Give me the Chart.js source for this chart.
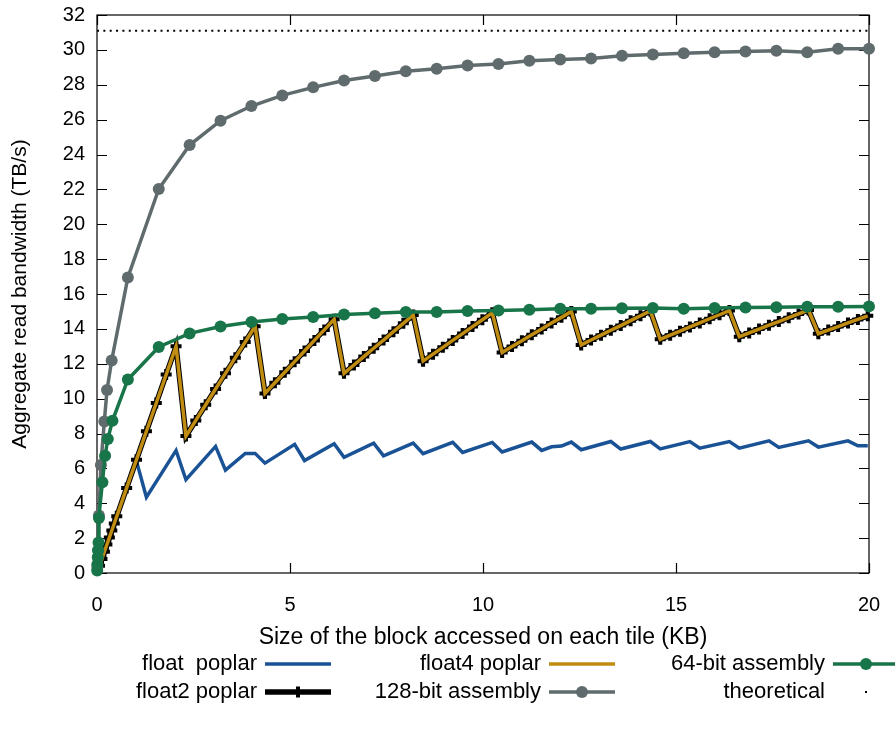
<!DOCTYPE html>
<html>
<head>
<meta charset="utf-8">
<script src="https://cdn.jsdelivr.net/npm/chart.js@4.4.1/dist/chart.umd.min.js"></script>
<style>
  html, body { margin: 0; padding: 0; background: #ffffff; }
  #c { display: block; }
</style>
</head>
<body>
<canvas id="c" width="895" height="734"></canvas>
<script>
// ---- Data: block size per tile (KB) and aggregate read bandwidth (TB/s) ----

// Poplar codelets: sizes step by 64 B below 512 B, then by 256 B
const poplarSizeKB = [
  0.064, 0.128, 0.192, 0.256, 0.32, 0.384, 0.448, 0.512,
  0.768, 1.024, 1.28, 1.536, 1.792, 2.048,
  2.304, 2.56, 2.816, 3.072, 3.328, 3.584, 3.84, 4.096,
  4.352, 4.608, 4.864, 5.12, 5.376, 5.632, 5.888, 6.144,
  6.4, 6.656, 6.912, 7.168, 7.424, 7.68, 7.936, 8.192,
  8.448, 8.704, 8.96, 9.216, 9.472, 9.728, 9.984, 10.24,
  10.496, 10.752, 11.008, 11.264, 11.52, 11.776, 12.032, 12.288,
  12.544, 12.8, 13.056, 13.312, 13.568, 13.824, 14.08, 14.336,
  14.592, 14.848, 15.104, 15.36, 15.616, 15.872, 16.128, 16.384,
  16.64, 16.896, 17.152, 17.408, 17.664, 17.92, 18.176, 18.432,
  18.688, 18.944, 19.2, 19.456, 19.712, 19.968
];

const float2Poplar = [
  0.41, 0.81, 1.22, 1.63, 2.03, 2.44, 2.84, 3.25,
  4.88, 6.50, 8.13, 9.75, 11.38, 13.00,
  7.85, 8.75, 9.65, 10.55, 11.45, 12.35, 13.25, 14.15,
  10.30, 10.91, 11.51, 12.12, 12.73, 13.34, 13.94, 14.55,
  11.45, 11.93, 12.41, 12.89, 13.36, 13.84, 14.32, 14.80,
  12.15, 12.55, 12.94, 13.34, 13.73, 14.13, 14.52, 14.92,
  12.65, 12.99, 13.32, 13.66, 13.99, 14.33, 14.66, 15.00,
  13.08, 13.36, 13.64, 13.92, 14.19, 14.47, 14.75, 15.03,
  13.40, 13.64, 13.87, 14.11, 14.34, 14.58, 14.81, 15.05,
  13.55, 13.77, 13.99, 14.21, 14.42, 14.64, 14.86, 15.08,
  13.72, 13.93, 14.13, 14.34, 14.54, 14.75
];

const float4Poplar = [
  0.41, 0.81, 1.22, 1.63, 2.03, 2.44, 2.84, 3.25,
  4.88, 6.50, 8.13, 9.75, 11.38, 13.00,
  7.85, 8.75, 9.65, 10.55, 11.45, 12.35, 13.25, 14.15,
  10.30, 10.91, 11.51, 12.12, 12.73, 13.34, 13.94, 14.55,
  11.45, 11.93, 12.41, 12.89, 13.36, 13.84, 14.32, 14.80,
  12.15, 12.55, 12.94, 13.34, 13.73, 14.13, 14.52, 14.92,
  12.65, 12.99, 13.32, 13.66, 13.99, 14.33, 14.66, 15.00,
  13.08, 13.36, 13.64, 13.92, 14.19, 14.47, 14.75, 15.03,
  13.40, 13.64, 13.87, 14.11, 14.34, 14.58, 14.81, 15.05,
  13.55, 13.77, 13.99, 14.21, 14.42, 14.64, 14.86, 15.08,
  13.72, 13.93, 14.13, 14.34, 14.54, 14.75
];

// Scalar float codelet (only the sizes where the curve turns)
const floatSizeKB = [
  0.064, 0.256, 0.512, 0.768, 1.024, 1.28, 2.048, 2.304, 3.072, 3.328,
  3.84, 4.096, 4.352, 5.12, 5.376, 6.144, 6.4, 7.168, 7.424, 8.192,
  8.448, 9.216, 9.472, 10.24, 10.496, 11.264, 11.52, 11.776, 12.032, 12.288,
  12.544, 13.312, 13.568, 14.336, 14.592, 15.36, 15.616, 16.384, 16.64, 17.408,
  17.664, 18.432, 18.688, 19.456, 19.712, 19.968
];
const floatPoplar = [
  0.41, 1.63, 3.25, 4.88, 6.40, 4.35, 7.03, 5.35, 7.26, 5.90,
  6.86, 6.86, 6.30, 7.38, 6.45, 7.41, 6.63, 7.45, 6.72, 7.45,
  6.84, 7.49, 6.91, 7.49, 6.94, 7.51, 7.03, 7.24, 7.28, 7.51,
  7.07, 7.54, 7.11, 7.54, 7.12, 7.54, 7.16, 7.54, 7.16, 7.58,
  7.20, 7.58, 7.22, 7.58, 7.30, 7.30
];

// Hand-written assembly kernels
const asm128SizeKB = [
  0.01, 0.03, 0.05, 0.10, 0.19, 0.26, 0.38,
  0.8, 1.6, 2.4, 3.2, 4.0, 4.8, 5.6, 6.4, 7.2, 8.0, 8.8, 9.6, 10.4,
  11.2, 12.0, 12.8, 13.6, 14.4, 15.2, 16.0, 16.8, 17.6, 18.4, 19.2, 20.0
];
const asm128 = [
  0.35, 1.30, 3.30, 6.20, 8.69, 10.50, 12.19,
  16.95, 22.02, 24.54, 25.94, 26.78, 27.39, 27.85, 28.24, 28.50, 28.77, 28.92, 29.11, 29.19,
  29.38, 29.45, 29.50, 29.66, 29.74, 29.80, 29.87, 29.91, 29.95, 29.87, 30.06, 30.06
];

const asm64SizeKB = [
  0.005, 0.01, 0.02, 0.03, 0.04, 0.05, 0.14, 0.21, 0.28, 0.40,
  0.8, 1.6, 2.4, 3.2, 4.0, 4.8, 5.6, 6.4, 7.2, 8.0, 8.8, 9.6, 10.4,
  11.2, 12.0, 12.8, 13.6, 14.4, 15.2, 16.0, 16.8, 17.6, 18.4, 19.2, 20.0
];
const asm64 = [
  0.15, 0.50, 0.90, 1.30, 1.75, 3.15, 5.20, 6.72, 7.68, 8.73,
  11.10, 12.96, 13.74, 14.14, 14.39, 14.57, 14.68, 14.83, 14.89, 14.97, 14.97, 15.03, 15.06,
  15.10, 15.16, 15.16, 15.18, 15.20, 15.16, 15.20, 15.22, 15.24, 15.27, 15.27, 15.29
];

// Theoretical peak read bandwidth
const theoreticalSizeKB = [0, 20];
const theoretical = [31.1, 31.1];

// Axis ticks
const xTicks = [0, 5, 10, 15, 20];
const yTicks = [0, 2, 4, 6, 8, 10, 12, 14, 16, 18, 20, 22, 24, 26, 28, 30, 32];

// Legend layout: [label, dataset index] in reading order, two rows of three
const legendRows = [
  [['float  poplar', 0], ['float4 poplar', 2], ['64-bit assembly', 4]],
  [['float2 poplar', 1], ['128-bit assembly', 3], ['theoretical', 5]]
];

// ---- Helpers ----
const pts = (xs, ys) => xs.map((x, i) => ({ x: x, y: ys[i] }));
const FONT = '"Liberation Sans", Arial, Helvetica, sans-serif';
const TICK_FS = 20;
const XTITLE_FS = 23;
const YTITLE_FS = 21;
const KEY_FS = 22;

const COL_BLUE = '#1a5296';
const COL_GOLD = '#c08d12';
const COL_GRAY = '#606b6e';
const COL_GREEN = '#187549';

// Box border with inward ticks on all four sides
const frame = {
  id: 'frame',
  beforeDatasetsDraw(chart) {
    const { ctx, chartArea: a, scales } = chart;
    ctx.save();
    ctx.strokeStyle = '#000';
    ctx.lineWidth = 1.2;
    ctx.strokeRect(a.left, a.top, a.right - a.left, a.bottom - a.top);
    const len = 10;
    ctx.beginPath();
    xTicks.forEach(v => {
      const px = Math.round(scales.x.getPixelForValue(v)) + 0.5;
      ctx.moveTo(px, a.bottom); ctx.lineTo(px, a.bottom - len);
      ctx.moveTo(px, a.top); ctx.lineTo(px, a.top + len);
    });
    yTicks.forEach(v => {
      const py = Math.round(scales.y.getPixelForValue(v)) + 0.5;
      ctx.moveTo(a.left, py); ctx.lineTo(a.left + len, py);
      ctx.moveTo(a.right, py); ctx.lineTo(a.right - len, py);
    });
    ctx.stroke();
    ctx.restore();
  }
};

// Key below the plot: right-aligned label followed by a line sample
const keyBox = {
  id: 'keyBox',
  afterDraw(chart) {
    const ctx = chart.ctx;
    const textRight = [257, 541, 825];
    const rowY = [664, 692];
    const sampleLen = 66;
    ctx.save();
    ctx.font = KEY_FS + 'px ' + FONT;
    ctx.textBaseline = 'middle';
    ctx.textAlign = 'right';
    legendRows.forEach((row, r) => {
      row.forEach(([label, di], c) => {
        const ds = chart.data.datasets[di];
        const y = rowY[r];
        const x0 = textRight[c] + 8;
        const x1 = x0 + sampleLen;
        ctx.fillStyle = '#000';
        ctx.fillText(label, textRight[c], y);
        if (ds.borderDash && ds.borderDash.length) {
          ctx.fillStyle = ds.borderColor;
          ctx.fillRect((x0 + x1) / 2 - 1, y - 1, 2, 2);
          return;
        }
        ctx.strokeStyle = ds.borderColor;
        ctx.lineWidth = ds.borderWidth;
        ctx.beginPath();
        ctx.moveTo(x0, y); ctx.lineTo(x1, y);
        ctx.stroke();
        const xm = (x0 + x1) / 2;
        if (ds.pointStyle === 'cross') {
          ctx.lineWidth = ds.pointBorderWidth;
          ctx.beginPath();
          ctx.moveTo(xm, y - ds.pointRadius); ctx.lineTo(xm, y + ds.pointRadius);
          ctx.stroke();
        } else if (ds.pointRadius > 0) {
          ctx.fillStyle = ds.pointBackgroundColor;
          ctx.beginPath();
          ctx.arc(xm, y, ds.pointRadius, 0, Math.PI * 2);
          ctx.fill();
        }
      });
    });
    ctx.restore();
  }
};

// Series are stacked in listing order: later series sit on top (lower "order")
new Chart(document.getElementById('c'), {
  type: 'line',
  data: {
    datasets: [
      {
        label: 'float  poplar', order: 5,
        data: pts(floatSizeKB, floatPoplar),
        borderColor: COL_BLUE, borderWidth: 3.5,
        pointRadius: 0, fill: false
      },
      {
        label: 'float2 poplar', order: 4,
        data: pts(poplarSizeKB, float2Poplar),
        borderColor: '#000', borderWidth: 5.5,
        pointStyle: 'cross', pointRadius: 5.5, pointBorderWidth: 4,
        pointBorderColor: '#000', pointBackgroundColor: '#000', fill: false
      },
      {
        label: 'float4 poplar', order: 3,
        data: pts(poplarSizeKB, float4Poplar),
        borderColor: COL_GOLD, borderWidth: 3.5,
        pointRadius: 0, fill: false
      },
      {
        label: '128-bit assembly', order: 2,
        data: pts(asm128SizeKB, asm128),
        borderColor: COL_GRAY, borderWidth: 3.5,
        pointStyle: 'circle', pointRadius: 6, pointBorderWidth: 0,
        pointBackgroundColor: COL_GRAY, pointBorderColor: COL_GRAY, fill: false
      },
      {
        label: '64-bit assembly', order: 1,
        data: pts(asm64SizeKB, asm64),
        borderColor: COL_GREEN, borderWidth: 3.5,
        pointStyle: 'circle', pointRadius: 6, pointBorderWidth: 0,
        pointBackgroundColor: COL_GREEN, pointBorderColor: COL_GREEN, fill: false
      },
      {
        label: 'theoretical', order: 0,
        data: pts(theoreticalSizeKB, theoretical),
        borderColor: '#000', borderWidth: 2, borderDash: [2, 4.35],
        pointRadius: 0, fill: false
      }
    ]
  },
  options: {
    responsive: false,
    animation: false,
    devicePixelRatio: 1,
    clip: false,
    layout: { padding: { top: 15, right: 26, bottom: 81, left: 0 } },
    elements: { line: { tension: 0 } },
    plugins: { legend: { display: false }, tooltip: { enabled: false } },
    scales: {
      x: {
        type: 'linear', min: 0, max: 20,
        grid: { display: false, drawTicks: false }, border: { display: false },
        afterBuildTicks(s) { s.ticks = xTicks.map(v => ({ value: v })); },
        ticks: { autoSkip: false, maxRotation: 0, padding: 20, color: '#000', font: { family: FONT, size: TICK_FS } },
        title: {
          display: true, text: 'Size of the block accessed on each tile (KB)',
          color: '#000', font: { family: FONT, size: XTITLE_FS }, padding: { top: 0, bottom: 1.5 }
        },
        afterFit(s) { s.height = 80; s.paddingLeft = 0; s.paddingRight = 0; }
      },
      y: {
        type: 'linear', min: 0, max: 32,
        grid: { display: false, drawTicks: false }, border: { display: false },
        afterBuildTicks(s) { s.ticks = yTicks.map(v => ({ value: v })); },
        ticks: { autoSkip: false, padding: 12, color: '#000', font: { family: FONT, size: TICK_FS } },
        title: {
          display: true, text: 'Aggregate read bandwidth (TB/s)',
          color: '#000', font: { family: FONT, size: YTITLE_FS }, padding: { top: 8, bottom: 0 }
        },
        afterFit(s) { s.width = 97; s.paddingTop = 0; s.paddingBottom = 0; }
      }
    }
  },
  plugins: [frame, keyBox]
});
</script>
</body>
</html>
